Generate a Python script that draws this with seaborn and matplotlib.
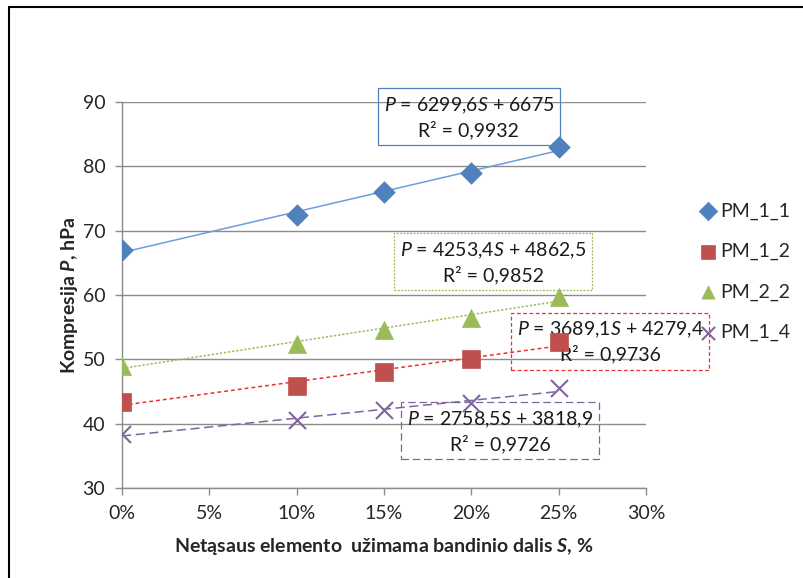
import numpy as np
import matplotlib
matplotlib.use("Agg")
import matplotlib.pyplot as plt
import seaborn as sns
from matplotlib.lines import Line2D
from matplotlib.ticker import PercentFormatter

# Data (share S as a fraction, compression P in hPa)
share = [0.0, 0.10, 0.15, 0.20, 0.25]
pm_1_1 = [67.0, 72.5, 76.0, 78.9, 83.0]
pm_1_2 = [43.4, 45.9, 48.1, 50.0, 52.7]
pm_2_2 = [49.0, 52.4, 54.6, 56.5, 59.7]
pm_1_4 = [38.4, 40.5, 42.2, 43.2, 45.5]

series_names = ["PM_1_1", "PM_1_2", "PM_2_2", "PM_1_4"]
equations = [
    "$P$ = 6299,6$S$ + 6675\nR² = 0,9932",
    "$P$ = 3689,1$S$ + 4279,4\nR² = 0,9736",
    "$P$ = 4253,4$S$ + 4862,5\nR² = 0,9852",
    "$P$ = 2758,5$S$ + 3818,9\nR² = 0,9726",
]

sns.set_style("white")
plt.rcParams['font.family'] = ['Lato', 'DejaVu Sans']
plt.rcParams['mathtext.fontset'] = 'custom'
plt.rcParams['mathtext.rm'] = 'Lato'
plt.rcParams['mathtext.it'] = 'Lato:italic'
plt.rcParams['mathtext.bf'] = 'Lato:bold'
plt.rcParams['mathtext.bfit'] = 'Lato:bold:italic'

fig = plt.figure(figsize=(8.04, 5.78), dpi=100)
ax = fig.add_axes([122 / 804, 1 - 488 / 578, 524 / 804, 386 / 578])

values = [pm_1_1, pm_1_2, pm_2_2, pm_1_4]
colors = ["#4F81BD", "#C0504D", "#9BBB59", "#8064A2"]
line_colors = ["#6A9FDA", "#E8302E", "#9BBB59", "#8064A2"]
line_styles = ["-", (0, (2.5, 2)), (0, (1.5, 1.2)), (0, (6, 3))]
markers = ["D", "s", "^", "x"]
sizes = [120, 150, 170, 150]

# trendlines
for vals, lc, ls in zip(values, line_colors, line_styles):
    sns.regplot(x=share, y=vals, ax=ax, scatter=False, ci=None, truncate=True,
                line_kws=dict(color=lc, lw=1.1, ls=ls, zorder=2))

# markers
for name, vals, c, m, s in zip(series_names, values, colors, markers, sizes):
    if m == "x":
        sns.scatterplot(x=share, y=vals, ax=ax, marker=m, s=s, color=c,
                        linewidth=1.5, label=name, zorder=4)
    else:
        sns.scatterplot(x=share, y=vals, ax=ax, marker=m, s=s, color=c,
                        edgecolor=c, linewidth=0.5, label=name, zorder=4)

ax.set_xlim(0, 0.30)
ax.set_ylim(30, 90)
ax.set_xticks(np.arange(0, 0.301, 0.05))
ax.set_yticks(np.arange(30, 91, 10))
ax.xaxis.set_major_formatter(PercentFormatter(xmax=1, decimals=0))

grey = "#8C8C8C"
ax.yaxis.grid(True, color=grey, lw=1)
ax.xaxis.grid(False)
ax.set_axisbelow(True)
for sp in ["top", "right"]:
    ax.spines[sp].set_visible(False)
for sp in ["left", "bottom"]:
    ax.spines[sp].set_color(grey)
    ax.spines[sp].set_linewidth(1)
ax.tick_params(axis="both", direction="out", length=5, width=1, color=grey,
               labelsize=14, labelcolor="#262626")
ax.tick_params(axis="y", pad=7, left=True)
ax.tick_params(axis="x", pad=7, bottom=True)

ax.set_xlabel(r"Netąsaus elemento  užimama bandinio dalis $\mathbfit{S}$, %",
              fontsize=14, fontweight="bold", labelpad=10)
ax.set_ylabel(r"Kompresija $\mathbfit{P}$, hPa", fontsize=14,
              fontweight="bold", labelpad=1.5)

# equation boxes
box_pos = [(0.1985, 87.6), (0.2795, 52.7), (0.2125, 65.1), (0.2165, 38.8)]
box_edge = ["#4F81BD", "#E8302E", "#9BBB59", "#8064A2"]
box_ls = ["-", (0, (3, 2)), (0, (1.5, 1.2)), (0, (6, 3))]
for txt, (bx, by), ec, bls in zip(equations, box_pos, box_edge, box_ls):
    ax.text(bx, by, txt, ha="center", va="center", fontsize=14,
            color="#1a1a1a", linespacing=1.3, zorder=3,
            bbox=dict(boxstyle="square,pad=0.3", fc="none", ec=ec, lw=0.9, ls=bls))

leg = ax.legend(loc="center left", bbox_to_anchor=(1.085, 0.56), frameon=False,
                fontsize=14, labelspacing=1.2, handletextpad=0.15,
                handlelength=1.0, borderaxespad=0)
for h in leg.legend_handles:
    h.set_sizes([90])

# partial outer frame (top and left edges)
fig.add_artist(Line2D([9 / 804, 1], [1 - 7 / 578, 1 - 7 / 578],
                      transform=fig.transFigure, color="black", lw=1.5))
fig.add_artist(Line2D([9 / 804, 9 / 804], [0, 1 - 7 / 578],
                      transform=fig.transFigure, color="black", lw=1.5))

fig.savefig("out.png", dpi=100)
